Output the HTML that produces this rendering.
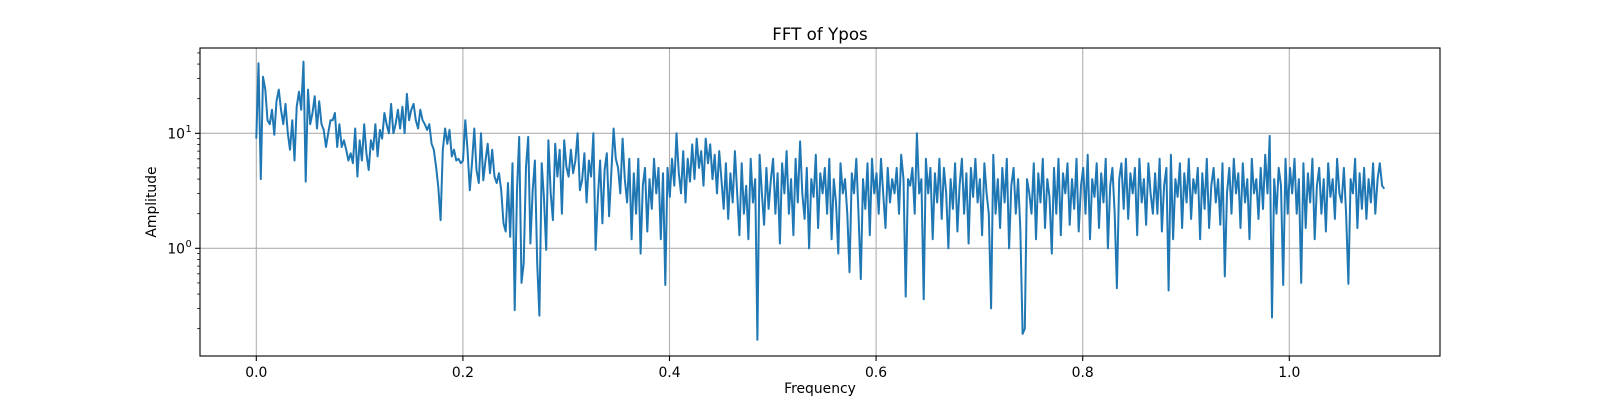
<!DOCTYPE html>
<html><head><meta charset="utf-8"><style>
body{margin:0;background:#fff;}
svg text{font-family:"DejaVu Sans","Liberation Sans",sans-serif;fill:#000;}
</style></head><body>
<svg id="chart" width="1600" height="400" xmlns="http://www.w3.org/2000/svg">
<rect width="1600" height="400" fill="#fff"/>
<text x="820" y="40" font-size="16.7" text-anchor="middle">FFT of Ypos</text>
<g id="grid"></g>
<g id="ticks"></g>
<path id="line" fill="none" stroke="#1f77b4" stroke-width="2" stroke-linejoin="round"/>
<rect x="200" y="48" width="1240" height="308" fill="none" stroke="#000" stroke-width="1.1"/>
<text x="820" y="393" font-size="13.9" text-anchor="middle">Frequency</text>
<text transform="translate(156,202) rotate(-90)" font-size="13.9" text-anchor="middle">Amplitude</text>
</svg>
<script>
const xTicks=[0,0.2,0.4,0.6,0.8,1.0];
const xTickLabels=["0.0","0.2","0.4","0.6","0.8","1.0"];
const yTicks=[1,10];
const yTickLabels=["10","10"];
const maxFreq=1.092;
const amplitudes=[
9,40.7,4,31,24,13,12,16,9.7,19,24,16,12,18,10,7.2,13,5.8,17,23,16,42,3.8,
24,12,15,21,11,19,12,10.7,7.6,10,13,13,15,7.6,12,7.6,8.7,7.2,5.8,6.7,5.5,11,4.2,
8.7,5.8,12,6.7,4.8,8.7,7.2,12,6.3,10.7,9,15,12,10,18,10,12,16,11,17,10,22,13,
16,18,13,11,16,13,12,10.7,12,8.1,7.2,5.1,3.4,1.76,7.2,11,8.1,10.7,6.3,7.2,5.8,6,5.5,
5.8,13,7.2,3.2,5.5,11,4.8,3.7,10,3.9,5.8,8.1,4.5,7.2,4.2,3.7,4.5,3.2,1.65,1.4,3.7,1.26,5.5,
0.29,3.2,9.3,0.5,0.74,5.1,9.3,1.1,3.2,5.8,0.74,0.26,5.5,2.8,0.97,8.7,3,1.76,8.1,4.2,7.2,2,8.7,
5.1,4.2,7.2,4.5,5.8,10,3.2,3.9,6.7,2.5,5.8,4.2,10,0.97,2.8,5.8,1.65,4.8,6.7,1.9,4.5,11,6,
5,3,9,4,2.5,6,1.2,4.5,2,6,0.9,3.5,5,1.4,4,2.2,6,3,5,1.2,4.5,0.48,5,
2.8,6,3.5,10,4.5,3,7,2.5,6,3.8,8,4,9,5,7,3.5,9,5.5,8,4,6.5,3,7,
4,2.2,5.5,1.8,4.5,2.5,7,3,1.3,5.5,2,3.5,1.2,6,2.5,4,0.16,6.5,3,1.6,5,2.2,4,
6,2,4.5,1.1,5.5,3,7,2,4,1.3,6,2.5,8.5,3,1.8,5,1,4,2.8,6.5,1.5,4.5,3,
5,2,6,1.2,4,2.5,0.9,5.5,3,4,2,0.62,4.5,3,6,2,0.54,4,2.2,5.5,1.3,6,3,
4.5,2,6,3,1.5,5,2.5,4,3,5,2,6.5,4,0.38,4,3.5,5,2,10,3,4,0.36,6,
3,5,1.2,4.5,2.5,6,1.8,5,3,1,4,2.2,5.5,1.4,3.5,6,2,4.5,1.1,5,2.8,6,2.5,
4,1.3,5.5,3,2,0.3,6.5,2,4,1.5,5,2.5,6,1,3.5,5,2,4,1.5,0.18,0.2,4,3,
2,5.5,1.2,4.5,2.5,6,1.5,4,2.8,0.9,5,2,6,1.3,4.5,3,5.5,1.6,4,2.2,6,1.4,3.5,
5,2,6.5,1.2,4,2.8,5.5,1.5,4.5,2.5,6,1,3.5,5,2,0.45,4,5.5,2.2,6,1.8,4.5,3,
5,1.3,6,2.5,4,1.6,5.5,3,2,4.5,2,6,1.4,3.5,5,0.43,6.5,1.2,4,2.8,5.5,1.5,4.5,
2.5,6,1.8,4,3,5,1.2,4.5,2.2,6,1.5,3.5,5,2.5,4,1.6,5.5,0.57,3,5,2,6,3,
4.5,1.5,5.5,2.5,4,1.2,6,3,4,1.8,5,2.2,6.5,3,9.5,0.25,4,2,5,3.5,0.48,6,2,
5,3,6,2,4,0.5,5.5,1.5,4.5,2.5,6,1.2,3.5,5,2,4,1.4,5.5,2.8,4,1.8,6,3,
2.5,5,2,0.49,4,3,6,1.5,4.5,2.2,5,1.8,4,2.5,5.5,2,4,5.5,3.5,3.3];
const NS="http://www.w3.org/2000/svg";
const X=f=>256.3+f*1033;
const Y=a=>248.3-Math.log10(a)*115;
const grid=document.getElementById('grid'),ticks=document.getElementById('ticks');
function mk(tag,attrs,parent){const e=document.createElementNS(NS,tag);for(const k in attrs)e.setAttribute(k,attrs[k]);parent.appendChild(e);return e;}
xTicks.forEach((t,i)=>{const x=X(t);
 const g=mk('line',{x1:x,x2:x,y1:48,y2:356,stroke:'#b0b0b0','stroke-width':1.1},grid);
 
 
 mk('line',{x1:x,x2:x,y1:356,y2:361,stroke:'#000','stroke-width':1.1},ticks);
 const tx=mk('text',{x:x,y:377,'font-size':13.9,'text-anchor':'middle'},ticks);tx.textContent=xTickLabels[i];
 
 
});
yTicks.forEach((t,i)=>{const y=Y(t);
 const g=mk('line',{x1:200,x2:1440,y1:y,y2:y,stroke:'#b0b0b0','stroke-width':1.1},grid);
 
 
 mk('line',{x1:195,x2:200,y1:y,y2:y,stroke:'#000','stroke-width':1.1},ticks);
 const tx=mk('text',{x:185,y:y+5,'font-size':13.9,'text-anchor':'end'},ticks);tx.textContent=yTickLabels[i];
 
 
 const sp=mk('text',{x:185.5,y:y-1.5,'font-size':9.7},ticks);sp.textContent=(Math.log10(t)).toFixed(0);
 
 
});
[0.1,1,10].forEach(d=>{for(let m=2;m<=9;m++){const v=d*m;const y=Y(v);if(y<48||y>356)continue;
 mk('line',{x1:197.2,x2:200,y1:y,y2:y,stroke:'#000','stroke-width':0.8},ticks);}});
const df=maxFreq/(amplitudes.length-1);
let d='';amplitudes.forEach((a,i)=>{d+=(i?'L':'M')+X(i*df).toFixed(1)+','+Y(a).toFixed(1);});
document.getElementById('line').setAttribute('d',d);
</script>
</body></html>
